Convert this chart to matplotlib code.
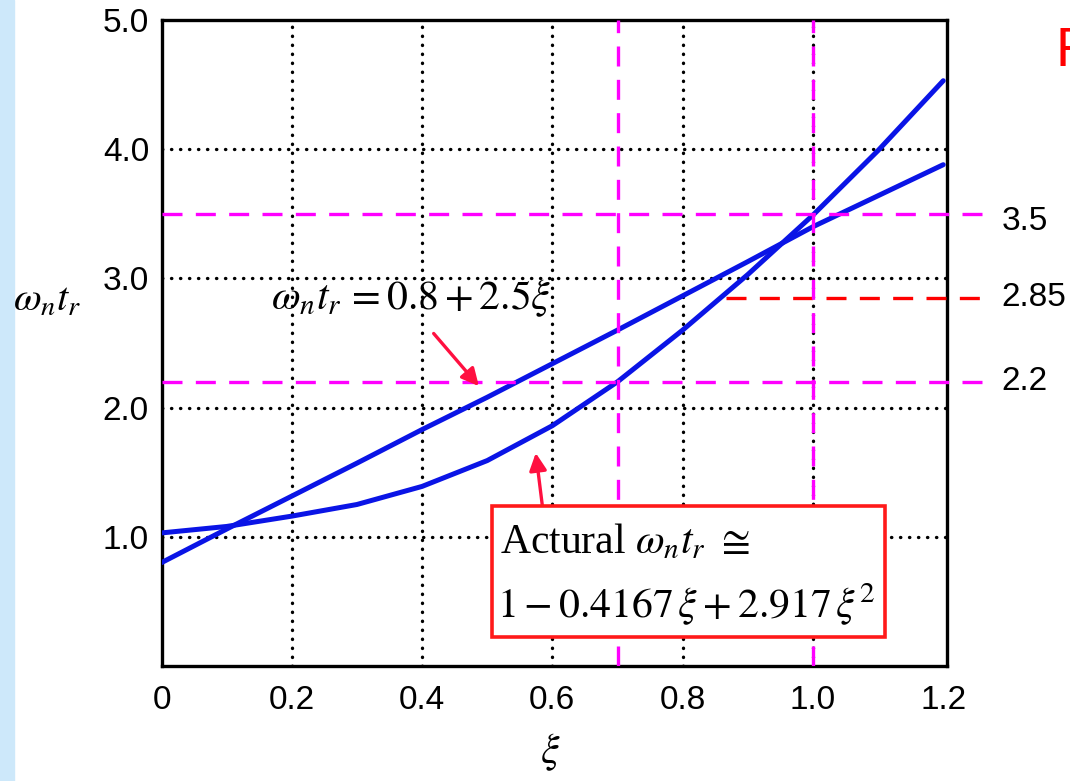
import numpy as np
import matplotlib.pyplot as plt
from matplotlib.patches import Rectangle

plt.rcParams['mathtext.fontset'] = 'stix'
plt.rcParams['font.family'] = 'Liberation Sans'

# curves
xi = [0.0, 0.1, 0.2, 0.3, 0.4, 0.5, 0.6, 0.7, 0.8, 0.9, 1.0, 1.1, 1.2]
wt_linear = [0.80, 1.06, 1.315, 1.57, 1.83, 2.08, 2.34, 2.60, 2.865, 3.13, 3.40, 3.64, 3.88]
wt_actual = [1.03, 1.08, 1.16, 1.25, 1.39, 1.59, 1.86, 2.20, 2.60, 3.03, 3.49, 3.99, 4.53]

# reference lines
h_magenta = [3.5, 2.2]
h_magenta_end = [1.26, 1.28]
h_red = 2.85
h_red_span = [0.866, 1.26]
v_magenta = [0.7, 1.0]
side_labels = ['3.5', '2.85', '2.2']
side_values = [3.44, 2.85, 2.2]

xticks = [0, 0.2, 0.4, 0.6, 0.8, 1.0, 1.2]
xticklabels = ['0', '0.2', '0.4', '0.6', '0.8', '1.0', '1.2']
yticks = [1.0, 2.0, 3.0, 4.0, 5.0]
yticklabels = ['1.0', '2.0', '3.0', '4.0', '5.0']

fig = plt.figure(figsize=(10.7, 7.81), dpi=100)
fig.patches.append(Rectangle((0, 0), 14 / 1070, 1, transform=fig.transFigure,
                             color='#cde8fa', zorder=0))
ax = fig.add_axes([161.5 / 1070, 115 / 781, 785 / 1070, 646 / 781])

ax.set_xlim(0, 1.205)
ax.set_ylim(0, 5.0)
ax.set_xticks(xticks)
ax.set_xticklabels(xticklabels)
ax.set_yticks(yticks)
ax.set_yticklabels(yticklabels)
ax.tick_params(length=0, labelsize=24, pad=9)
ax.tick_params(axis='x', pad=14)
for s in ax.spines.values():
    s.set_linewidth(2.4)

# dotted grid
for gx in xticks[1:-1]:
    ax.axvline(gx, color='black', lw=2.4, ls=(0, (0.1, 2.6)),
               dash_capstyle='round', zorder=1)
for gy in yticks[:-1]:
    ax.axhline(gy, color='black', lw=2.4, ls=(0, (0.1, 2.6)),
               dash_capstyle='round', zorder=1)

ax.plot(xi, wt_linear, color='#0a14e6', lw=3.6, zorder=3,
        solid_capstyle='round', solid_joinstyle='round')
ax.plot(xi, wt_actual, color='#0a14e6', lw=3.6, zorder=3,
        solid_capstyle='round', solid_joinstyle='round')

for y, xe in zip(h_magenta, h_magenta_end):
    ax.plot([0, xe], [y, y], color='magenta', lw=2.4, dashes=(6, 4),
            clip_on=False, zorder=4)
ax.plot(h_red_span, [h_red, h_red], color='red', lw=2.4,
        dashes=(6, 4), clip_on=False, zorder=4)
for x in v_magenta:
    ax.axvline(x, color='magenta', lw=2.4, dashes=(6, 4), zorder=4)

for lab, y in zip(side_labels, side_values):
    ax.text(1.29, y, lab, fontsize=24, va='center', ha='left', clip_on=False)

# annotations
ax.text(0.168, 2.85, r'$\omega_n t_r\, =0.8+2.5\xi$', fontsize=30,
        va='center', ha='left', zorder=5)
ax.annotate('', xy=(0.49, 2.15), xytext=(0.415, 2.59),
            arrowprops=dict(arrowstyle='-|>', color='#ff1040', lw=2.4,
                            mutation_scale=26), zorder=5)
ax.annotate('', xy=(0.574, 1.67), xytext=(0.585, 1.225),
            arrowprops=dict(arrowstyle='-|>', color='#ff1040', lw=2.4,
                            mutation_scale=26), zorder=5)

ax.add_patch(Rectangle((0.508, 0.225), 0.603, 1.01, facecolor='white',
                       edgecolor='#ff1a1a', lw=2.6, zorder=6))
ax.text(0.52, 0.96, r'Actural $\omega_n t_r\ \cong$', fontsize=30,
        family='Liberation Serif', va='center', ha='left', zorder=7)
ax.text(0.515, 0.47, r'$1-0.4167\,\xi+2.917\,\xi^2$', fontsize=30,
        va='center', ha='left', zorder=7)

fig.text(13 / 1070, 1 - 300 / 781, r'$\omega_n t_r$', fontsize=29,
         va='center', ha='left')
fig.text(550 / 1070, 1 - 752 / 781, r'$\xi$', fontsize=30,
         va='center', ha='center')
fig.text(1056 / 1070, 1 - 52 / 781, 'F', fontsize=40, color='red',
         va='center', ha='left')

fig.savefig('out.png', dpi=100)
